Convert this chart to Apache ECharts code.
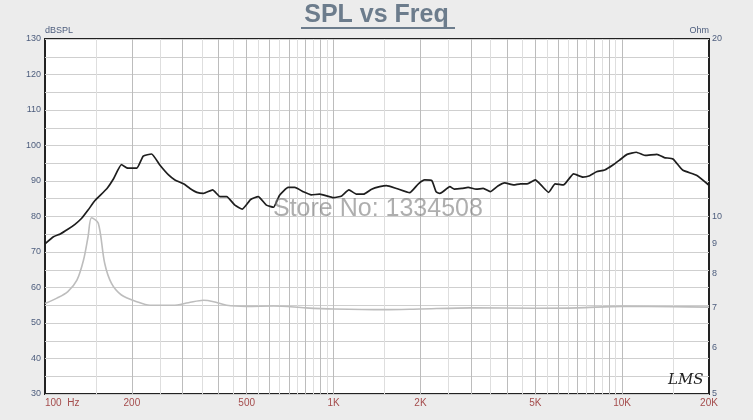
<!DOCTYPE html>
<html>
<head>
<meta charset="utf-8">
<script src="https://cdn.jsdelivr.net/npm/echarts@6/dist/echarts.min.js"></script>
<style>
html,body{margin:0;padding:0;background:#ececec;}
#c{width:753px;height:420px;}
</style>
</head>
<body>
<div id="c"></div>
<script>
// SPL curve: [frequency Hz, dBSPL]
const splPoints = [
  [100,72.3],[107,74.3],[113,75.1],[120,76.4],[127,77.8],[134,79.5],[141,81.8],[149,84.5],
  [164,87.9],[173,90.7],[184,94.6],[194,93.6],[208,93.6],[219,97.0],[234,97.6],[250,94.5],
  [268,91.7],[282,90.3],[302,89.2],[318,87.9],[336,86.8],[354,86.5],[381,87.5],[404,85.6],
  [426,85.6],[455,83.2],[483,82.1],[516,84.8],[548,85.6],[585,83.2],[619,82.6],[650,86.0],
  [696,88.2],[734,88.2],[784,87.0],[837,86.1],[895,86.3],[1000,85.3],[1067,85.8],[1130,87.5],
  [1200,86.3],[1270,86.3],[1355,87.7],[1445,88.4],[1525,88.7],[1650,87.9],[1835,86.7],[1968,89.2],
  [2070,90.3],[2190,90.1],[2265,87.0],[2330,86.5],[2385,86.9],[2530,88.4],[2620,87.7],[2785,87.9],
  [2925,88.2],[3120,87.7],[3300,87.9],[3490,87.0],[3710,88.6],[3915,89.5],[4210,88.9],[4440,89.2],
  [4690,89.2],[5000,90.3],[5270,88.6],[5560,86.8],[5860,89.2],[6260,88.9],[6790,92.0],[7310,91.1],
  [7720,91.5],[8150,92.6],[8700,93.1],[9290,94.5],[9800,95.9],[10400,97.5],[11200,98.1],[12000,97.2],
  [13200,97.5],[14000,96.6],[15000,96.2],[16200,93.1],[18100,91.6],[20000,88.8]
];
// Impedance curve: [frequency Hz, Ohm]
const impPoints = [
  [100,7.12],[110,7.27],[120,7.46],[129,7.8],[136,8.44],[141,9.24],[145,9.95],[153,9.74],
  [161,8.33],[170,7.7],[184,7.36],[208,7.17],[231,7.07],[278,7.07],[314,7.14],[354,7.21],
  [384,7.17],[426,7.07],[500,7.04],[620,7.05],[800,7.0],[1000,6.97],[1500,6.95],[2000,6.97],
  [3000,7.0],[5000,6.99],[7000,7.0],[10000,7.04],[15000,7.03],[20000,7.02]
];
// Axis tick labels / grid values
const freqLabels = [100,200,500,1000,2000,5000,10000,20000];
const freqMajorGrid = [200,300,400,500,600,700,800,900,1000,2000,3000,4000,5000,6000,7000,8000,9000,10000];
const freqMinorGrid = [150,250,350,450,550,650,750,850,950,1500,2500,3500,4500,5500,6500,7500,8500,9500,15000];
const ohmLabels = [5,6,7,8,9,10,20];

const FONT = 'Arial, "Liberation Sans", sans-serif';
const chart = echarts.init(document.getElementById('c'));
const fmtFreq = v => v === 100 ? '100  Hz' : (v >= 1000 ? (v/1000) + 'K' : String(v));

chart.setOption({
  backgroundColor: '#ececec',
  animation: false,
  grid: {left: 45, right: 44, top: 39, bottom: 26, show: true,
         backgroundColor: '#ffffff', borderColor: '#222', borderWidth: 2},
  xAxis: [
    {type: 'log', min: 100, max: 20000, position: 'bottom',
     axisLine: {show: false}, axisTick: {show: false, customValues: freqMajorGrid},
     axisLabel: {customValues: freqLabels, formatter: fmtFreq, color: '#a44c4c',
                 fontSize: 10, fontFamily: FONT, margin: 4, alignMinLabel: 'left'},
     splitLine: {show: true, lineStyle: {color: '#bcbcbc', width: 1}}},
    {type: 'log', min: 100, max: 20000, position: 'bottom',
     axisLine: {show: false}, axisTick: {show: false, customValues: freqMinorGrid},
     axisLabel: {show: false},
     splitLine: {show: true, lineStyle: {color: '#dedede', width: 1}}}
  ],
  yAxis: [
    {type: 'value', min: 30, max: 130, interval: 5, position: 'left',
     name: 'dBSPL', nameLocation: 'end', nameGap: 2,
     nameTextStyle: {align: 'left', verticalAlign: 'bottom', color: '#4d5d7d', fontSize: 9, fontFamily: FONT},
     axisLine: {show: false}, axisTick: {show: false},
     axisLabel: {formatter: v => (v % 10 === 0 ? String(v) : ''), color: '#4d5d7d',
                 fontSize: 9, fontFamily: FONT, margin: 4},
     splitLine: {show: true, lineStyle: {color: '#cfcfcf', width: 1}}},
    {type: 'log', min: 5, max: 20, position: 'right',
     name: 'Ohm', nameLocation: 'end', nameGap: 2,
     nameTextStyle: {align: 'right', verticalAlign: 'bottom', color: '#4d5d7d', fontSize: 9, fontFamily: FONT},
     axisLine: {show: false}, axisTick: {show: false},
     axisLabel: {customValues: ohmLabels, color: '#4d5d7d', fontSize: 9, fontFamily: FONT, margin: 3},
     splitLine: {show: false}}
  ],
  series: [
    {type: 'line', name: 'Impedance', xAxisIndex: 0, yAxisIndex: 1, data: impPoints,
     showSymbol: false, smooth: 0.3, lineStyle: {color: '#bdbdbd', width: 1.6}, z: 2},
    {type: 'line', name: 'SPL', xAxisIndex: 0, yAxisIndex: 0, data: splPoints,
     showSymbol: false, smooth: 0.15, lineStyle: {color: '#1e1e1e', width: 1.7}, z: 3}
  ],
  graphic: [
    {type: 'text', left: 'center', top: 3,
     style: {text: 'SPL vs Freq', font: 'bold 25px ' + FONT, fill: '#6c7c8c'}},
    {type: 'rect', shape: {x: 301, y: 27, width: 154, height: 2}, style: {fill: '#6c7c8c'}},
    {type: 'text', left: 273, top: 197, z: 10,
     style: {text: 'Store No: 1334508', font: '25px ' + FONT, fill: 'rgba(120,120,120,0.6)'}},
    {type: 'text', left: 668, top: 373, z: 10,
     style: {text: 'LMS', font: 'italic 15px "DejaVu Serif", serif', fill: '#222'}}
  ]
});
</script>
</body>
</html>
